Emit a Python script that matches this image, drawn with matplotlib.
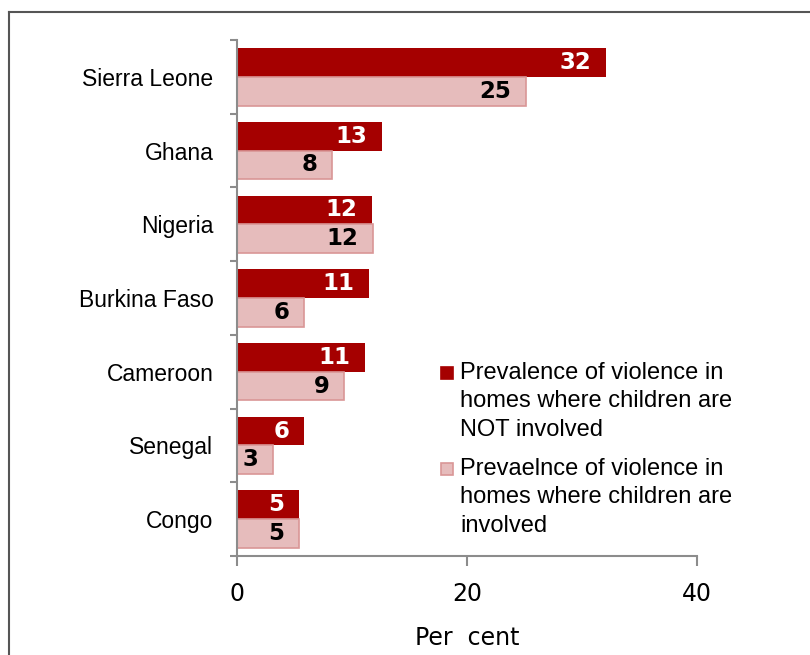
import matplotlib
matplotlib.use("Agg")
import matplotlib.pyplot as plt
from matplotlib.patches import Rectangle
from matplotlib.lines import Line2D
import numpy as np

countries = ["Sierra Leone", "Ghana", "Nigeria", "Burkina Faso", "Cameroon", "Senegal", "Congo"]
not_involved = [32.1, 12.6, 11.7, 11.45, 11.1, 5.8, 5.35]
involved = [25.1, 8.3, 11.8, 5.85, 9.3, 3.1, 5.4]
series_labels = [
    "Prevalence of violence in\nhomes where children are\nNOT involved",
    "Prevaelnce of violence in\nhomes where children are\ninvolved",
]
x_ticks = [0, 20, 40]
x_label = "Per  cent"

dark = "#A50000"
light_face = "#E6BCBC"
light_edge = "#D99696"
spine_col = "#8C8C8C"

W, H = 810, 655
fig = plt.figure(figsize=(W / 100, H / 100), dpi=100)
ax = fig.add_axes([237 / W, 1 - 556 / H, (697 - 237) / W, (556 - 40) / H])

y = np.arange(len(countries))
bw = 0.39
b1 = ax.barh(y - bw / 2, not_involved, height=bw, color=dark, edgecolor=dark, linewidth=0)
b2 = ax.barh(y + bw / 2, involved, height=bw, color=light_face, edgecolor=light_edge, linewidth=1.2)

lab_font = dict(family="DejaVu Sans", weight="bold", fontsize=16.5)
for rect, v in zip(b1, not_involved):
    ax.annotate(f"{v:.0f}", (rect.get_width(), rect.get_y() + rect.get_height() / 2),
                xytext=(-10.5, 0), textcoords="offset points", ha="right", va="center",
                color="white", **lab_font)
for rect, v in zip(b2, involved):
    ax.annotate(f"{v:.0f}", (rect.get_width(), rect.get_y() + rect.get_height() / 2),
                xytext=(-10.5, 0), textcoords="offset points", ha="right", va="center",
                color="black", **lab_font)

ax.set_xlim(0, 40)
ax.set_ylim(len(countries) - 0.5, -0.5)
ax.set_xticks(x_ticks)
ax.set_xticklabels([str(t) for t in x_ticks], fontsize=17, family="DejaVu Sans")
ax.set_yticks(y)
ax.set_yticklabels(countries, fontsize=16.5, family="Liberation Sans")
ax.set_yticks(np.arange(len(countries) + 1) - 0.5, minor=True)
ax.tick_params(axis="y", which="major", length=0, pad=17)
ax.tick_params(axis="y", which="minor", length=5, color=spine_col, width=1.5)
ax.tick_params(axis="x", which="major", length=7, color=spine_col, width=1.5, pad=12)
ax.set_xlabel(x_label, fontsize=17, family="DejaVu Sans", labelpad=14)

for s in ["top", "right"]:
    ax.spines[s].set_visible(False)
for s in ["left", "bottom"]:
    ax.spines[s].set_color(spine_col)
    ax.spines[s].set_linewidth(1.5)

# legend drawn manually
leg_font = dict(family="Liberation Sans", fontsize=17, linespacing=1.38)
leg_tops = [362, 458]
for col, ec, top, lab in zip([dark, light_face], [dark, light_edge], leg_tops, series_labels):
    fig.add_artist(Rectangle((441 / W, 1 - (top + 17) / H), 12 / W, 12 / H,
                             transform=fig.transFigure, facecolor=col, edgecolor=ec, linewidth=1.2))
    fig.text(460 / W, 1 - top / H, lab, ha="left", va="top", **leg_font)

# outer frame (extends beyond canvas on right/bottom)
fig.add_artist(Line2D([9 / W, 9 / W], [0, 1 - 12 / H], transform=fig.transFigure, color="#555555", linewidth=1.5))
fig.add_artist(Line2D([9 / W, 1], [1 - 12 / H, 1 - 12 / H], transform=fig.transFigure, color="#555555", linewidth=1.5))

fig.savefig("out.png", dpi=100)
